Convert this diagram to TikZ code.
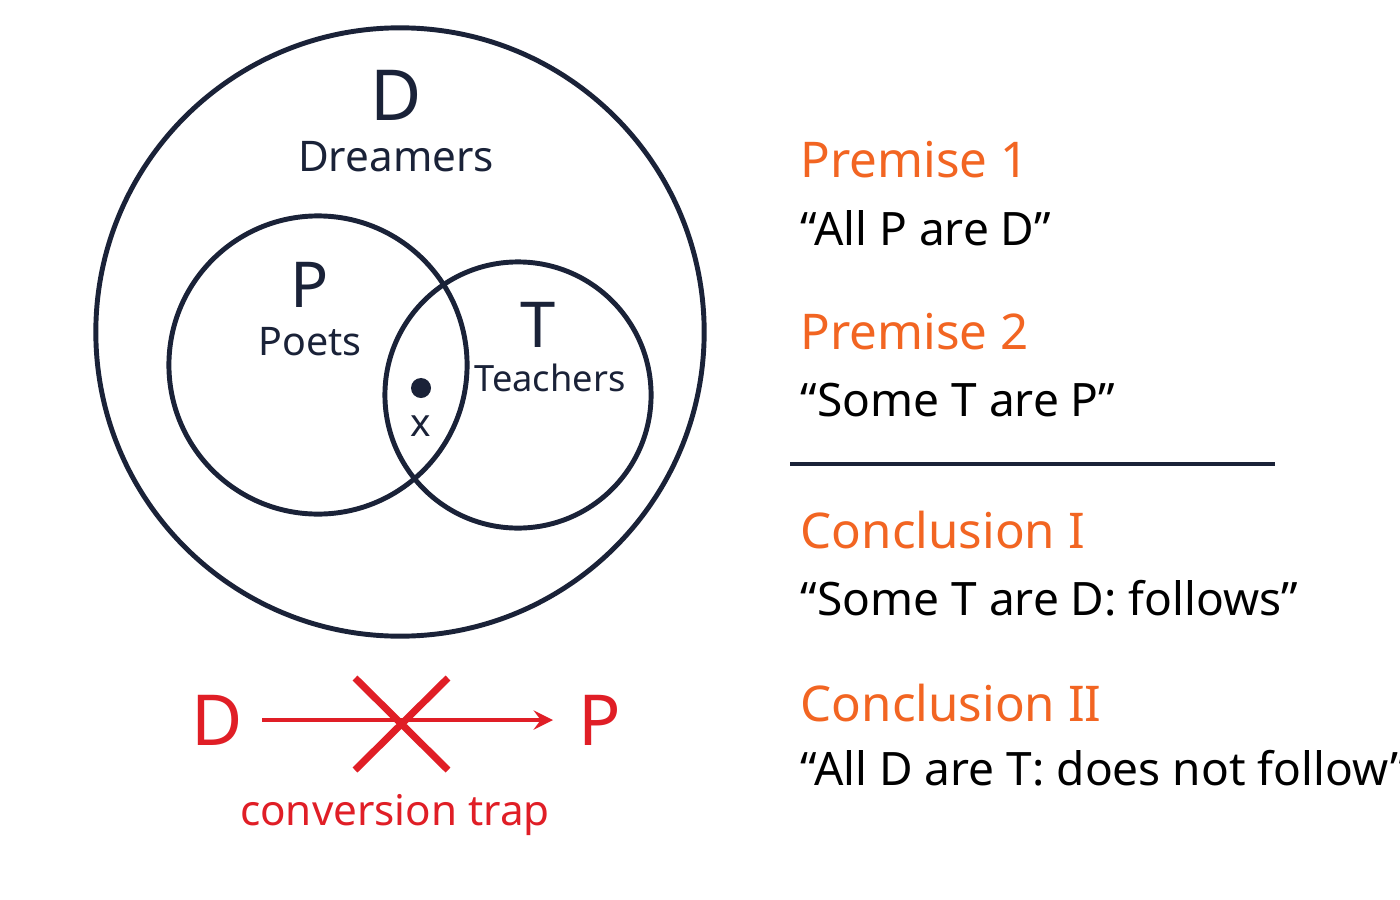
\documentclass[tikz,border=0pt]{standalone}
\usepackage{fontspec}
\setmainfont{Noto Sans}
\definecolor{ink}{HTML}{1A2238}
\definecolor{org}{HTML}{F26522}
\definecolor{rd}{HTML}{E01E26}
\begin{document}
\begin{tikzpicture}[x=0.01cm,y=-0.01cm,
  circ/.style={draw=ink,line width=1.4pt},
  lab/.style={text=ink,inner sep=0pt},
  head/.style={text=org,anchor=west,inner sep=0pt,font=\fontsize{14}{18}\selectfont},
  quote/.style={text=black,anchor=west,inner sep=0pt,font=\fontsize{13.1}{18}\selectfont}]
\useasboundingbox[fill=white] (0,0) rectangle (1400,900);
\node[circ,circle,minimum size=6.08cm] (D) at (400,332) {};
\node[circ,circle,minimum size=2.98cm] (P) at (318,365) {};
\node[circ,circle,minimum size=2.66cm] (T) at (518,395) {};
\node[lab,font=\bfseries\fontsize{20}{24}\selectfont] (dl) at (396,95) {D};
\node[lab,font=\fontsize{12}{14}\selectfont] (dn) at (396,157) {Dreamers};
\node[lab,font=\bfseries\fontsize{18}{22}\selectfont] (pl) at (310,285) {P};
\node[lab,font=\fontsize{11.2}{14}\selectfont] (pn) at (310,342) {Poets};
\node[lab,font=\bfseries\fontsize{18}{22}\selectfont] (tl) at (538,325) {T};
\node[lab,font=\fontsize{10.3}{14}\selectfont] (tn) at (550,378) {Teachers};
\node[fill=ink,circle,inner sep=0pt,minimum size=0.2cm] (dot) at (421,388) {};
\node[lab,font=\fontsize{11}{14}\selectfont] (xl) at (421,426) {x};
\node[head] (h1) at (800,160) {Premise 1};
\node[quote] (q1) at (800,228) {“All P are D”};
\node[head] (h2) at (800,332) {Premise 2};
\node[quote] (q2) at (800,400) {“Some T are P”};
\coordinate (l1) at (790,464); \coordinate (l2) at (1275,464);
\draw[ink,line width=1.4pt] (l1) -- (l2);
\node[head] (h3) at (800,530) {Conclusion I};
\node[quote] (q3) at (800,598) {“Some T are D: follows”};
\node[head] (h4) at (800,703) {Conclusion II};
\node[quote] (q4) at (800,768) {“All D are T: does not follow”};
\node[text=rd,font=\fontsize{20}{24}\selectfont,inner sep=0pt] (bd) at (217,720) {D};
\node[text=rd,font=\fontsize{20}{24}\selectfont,inner sep=0pt] (bp) at (600,720) {P};
\draw[rd,line width=1.4pt,->,>=stealth] (262,720) -- (553,720);
\coordinate (x1) at (355,678); \coordinate (x2) at (448,770);
\coordinate (x3) at (448,678); \coordinate (x4) at (355,770);
\draw[rd,line width=2pt] (x1) -- (x2) (x3) -- (x4);
\node[text=rd,font=\fontsize{12}{16}\selectfont,inner sep=0pt] (ct) at (395,815) {conversion trap};
\end{tikzpicture}
\end{document}
